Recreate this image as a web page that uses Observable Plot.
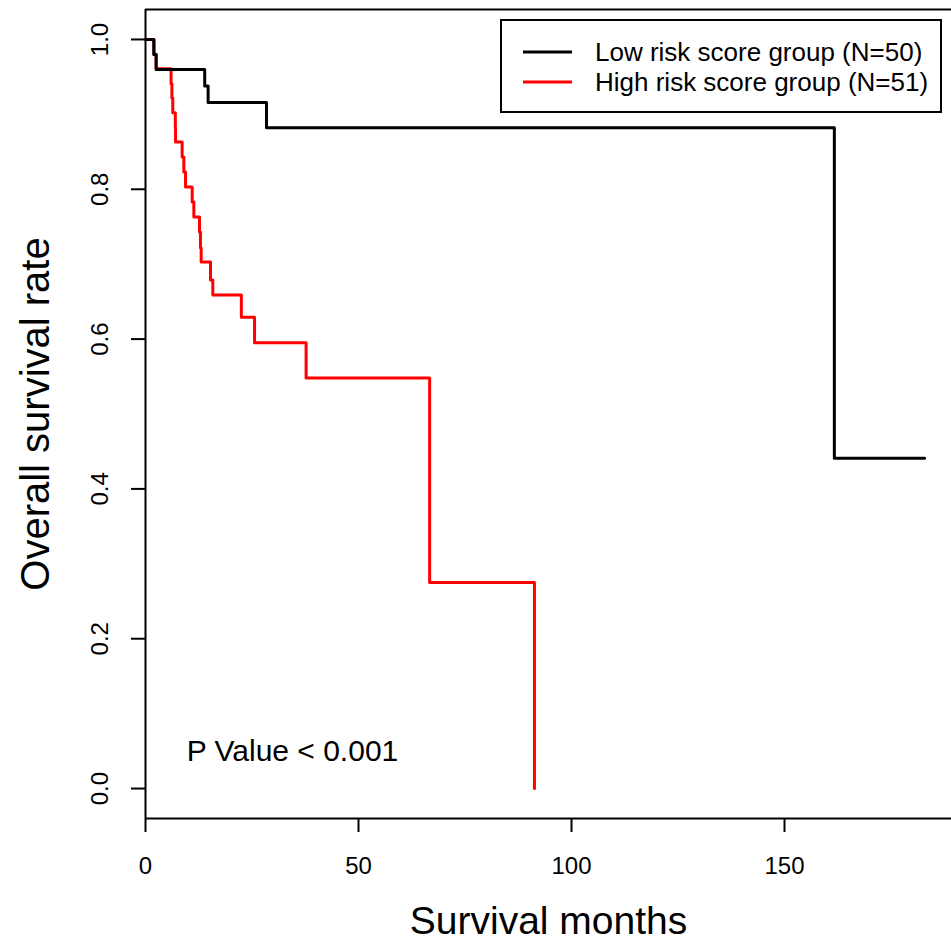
<!DOCTYPE html>
<html>
<head>
<meta charset="utf-8">
<script src="https://cdn.jsdelivr.net/npm/d3@7"></script>
<script src="https://cdn.jsdelivr.net/npm/@observablehq/plot@0.6"></script>
<style>
  html, body { margin: 0; padding: 0; background: #fff; }
  #wrap { position: relative; width: 951px; height: 943px; font-family: "Liberation Sans", Arial, Helvetica, sans-serif; }
  #legend { position: absolute; left: 500px; top: 19px; }
</style>
</head>
<body>
<div id="wrap"></div>
<script>
// ---- data ----
const groups = ["Low risk score group (N=50)", "High risk score group (N=51)"];
const groupColors = ["black", "red"];

const lowTimes = [0, 1.95, 2.5, 13.9, 14.7, 28.4, 161.7, 182.9];
const lowSurv  = [1, 0.98, 0.96, 0.938, 0.916, 0.882, 0.441, 0.441];

const highTimes = [0, 2.0, 2.5, 6.0, 6.2, 6.4, 7.0, 7.05, 8.6, 9.0, 9.4, 10.96, 11.35, 12.68, 12.9, 13.07, 15.26, 15.8, 22.5, 25.6, 37.7, 66.7, 91.3];
const highSurv  = [1, 0.98, 0.961, 0.941, 0.922, 0.902, 0.882, 0.863, 0.843, 0.823, 0.803, 0.783, 0.763, 0.743, 0.722, 0.703, 0.679, 0.659, 0.629, 0.595, 0.548, 0.275, 0];

const xTicks = [0, 50, 100, 150];
const yTicks = [0, 0.2, 0.4, 0.6, 0.8, 1.0];
const xTitle = "Survival months";
const yTitle = "Overall survival rate";
const pNote = [{t: 34.5, s: 0.05, label: "P Value < 0.001"}];

// ---- build table ----
const lowData = lowTimes.map((t, i) => ({t, s: lowSurv[i], g: groups[0]}));
const highData = highTimes.map((t, i) => ({t, s: highSurv[i], g: groups[1]}));

const font = "'Liberation Sans', Arial, Helvetica, sans-serif";
const yLo = -0.04, yHi = 1.04;

const chart = Plot.plot({
  width: 951,
  height: 943,
  marginLeft: 145,
  marginRight: 0,
  marginTop: 9,
  marginBottom: 125,
  x: {domain: [0, 189.2], axis: null},
  y: {domain: [yLo, yHi], axis: null},
  color: {domain: groups, range: groupColors},
  style: {fontFamily: font, background: "white", color: "black", overflow: "visible"},
  marks: [
    // box (left, top, bottom)
    Plot.ruleY([yLo, yHi], {stroke: "black", strokeWidth: 2}),
    Plot.ruleX([0], {y1: yLo, y2: yHi, stroke: "black", strokeWidth: 2}),
    // axes
    Plot.axisX({ticks: xTicks, tickSize: 14, tickPadding: 24, fontSize: 24, strokeWidth: 2, label: null, tickFormat: d => String(d)}),
    Plot.axisY({ticks: yTicks, tickSize: 14, tickPadding: 31, fontSize: 24, strokeWidth: 2, label: null,
      tickFormat: d3.format(".1f"), tickRotate: -90, textAnchor: "middle", lineAnchor: "middle"}),
    // axis titles
    Plot.text([xTitle], {text: d => d, frameAnchor: "bottom", dy: 103, fontSize: 39, lineAnchor: "middle", fill: "black"}),
    Plot.text([yTitle], {text: d => d, frameAnchor: "left", dx: -109, rotate: -90, fontSize: 40, lineAnchor: "middle", textAnchor: "middle", fill: "black"}),
    // survival curves
    Plot.line(highData, {x: "t", y: "s", stroke: "g", curve: "step-after", strokeWidth: 3}),
    Plot.line(lowData, {x: "t", y: "s", stroke: "g", curve: "step-after", strokeWidth: 3}),
    // p value
    Plot.text(pNote, {x: "t", y: "s", text: "label", fontSize: 30, fill: "black", lineAnchor: "middle"})
  ]
});

const wrap = document.getElementById("wrap");
wrap.appendChild(chart);

// ---- legend (overlay inside the plot area, like R's legend("topright")) ----
const lw = 442, lh = 94;
const leg = d3.select(wrap).append("svg")
  .attr("id", "legend")
  .attr("width", lw).attr("height", lh)
  .style("font-family", font);
leg.append("rect").attr("x", 1).attr("y", 1).attr("width", lw - 2).attr("height", lh - 2)
  .attr("fill", "white").attr("stroke", "black").attr("stroke-width", 2);
const rows = leg.selectAll("g.row").data(groups).join("g")
  .attr("class", "row")
  .attr("transform", (d, i) => `translate(0, ${33 + i * 30})`);
rows.append("line").attr("x1", 23).attr("x2", 72).attr("y1", 0).attr("y2", 0)
  .attr("stroke", (d, i) => groupColors[i]).attr("stroke-width", 3);
rows.append("text").attr("x", 95).attr("y", 0).attr("dy", "0.35em")
  .attr("font-size", 26).attr("fill", "black").text(d => d);
</script>
</body>
</html>
